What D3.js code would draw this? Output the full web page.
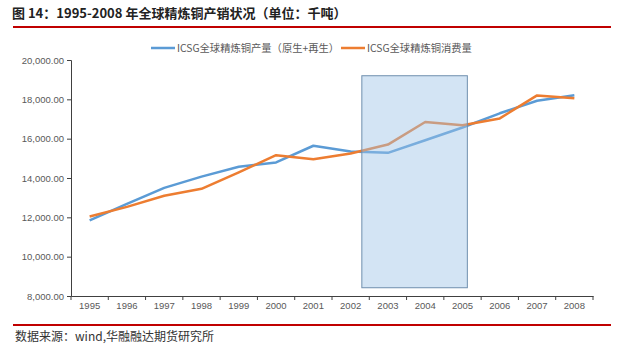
<!DOCTYPE html>
<html><head><meta charset="utf-8">
<script src="https://cdn.jsdelivr.net/npm/d3@7"></script>
<style>body{margin:0;background:#fff}svg{display:block}</style>
</head><body>
<svg id="c" width="620" height="357"></svg>
<script>
const years = ["1995","1996","1997","1998","1999","2000","2001","2002","2003","2004","2005","2006","2007","2008"];
const production = [11850,12680,13500,14070,14570,14790,15640,15350,15280,15920,16570,17290,17930,18210];
const consumption = [12040,12530,13100,13450,14290,15160,14950,15250,15700,16850,16680,17030,18200,18060];
const yTicks = [8000,10000,12000,14000,16000,18000,20000];
const seriesNames = ["ICSG全球精炼铜产量（原生+再生）","ICSG全球精炼铜消费量"];
const colors = ["#5b9bd5","#ed7d31"];
const titleText = "图 14：1995-2008 年全球精炼铜产销状况（单位：千吨）";
const sourceText = "数据来源：wind,华融融达期货研究所";
// highlighted period (in band units along x, value units along y)
const hlX = [7.80, 10.63];
const hlY = [8420, 19200];

const svg = d3.select("#c");
const cjk = "'Noto Sans CJK SC','Noto Sans',sans-serif";
const L = 71, R = 593, T = 60, B = 296;

const x = d3.scaleBand().domain(years).range([L, R]);
const y = d3.scaleLinear().domain([8000, 20000]).range([B, T]);
const xi = d3.scaleLinear().domain([0, years.length]).range([L, R]);

// title
svg.append("text").attr("x", 12).attr("y", 18).text(titleText)
  .attr("font-family", cjk).attr("font-weight", "bold").attr("font-size", 13).attr("fill", "#222");
svg.append("line").attr("x1", 13).attr("x2", 611).attr("y1", 27).attr("y2", 27)
  .attr("stroke", "#c00000").attr("stroke-width", 2);

// legend
const lg = svg.append("g").attr("font-family", cjk).attr("font-size", 10.3).attr("fill", "#595959");
const legX = [151, 341];
seriesNames.forEach((n, i) => {
  lg.append("line").attr("x1", legX[i]).attr("x2", legX[i] + 24).attr("y1", 48).attr("y2", 48)
    .attr("stroke", colors[i]).attr("stroke-width", 2.5);
  lg.append("text").attr("x", legX[i] + 26).attr("y", 52).text(n);
});

// y axis
const ya = svg.append("g").attr("transform", `translate(${L},0)`)
  .call(d3.axisLeft(y).tickValues(yTicks).tickFormat(d3.format(",.2f")).tickSizeOuter(0).tickSize(4));
ya.selectAll("text").attr("font-family", "'Liberation Sans',sans-serif").attr("font-size", 9.5).attr("fill", "#595959");
ya.selectAll("line,path").attr("stroke", "#404040");

// x axis
const xa = svg.append("g").attr("transform", `translate(0,${B})`)
  .call(d3.axisBottom(x).tickSize(0).tickSizeOuter(0));
xa.selectAll("text").attr("dy", "1.1em").attr("font-family", "'Liberation Sans',sans-serif").attr("font-size", 9.5).attr("fill", "#595959");
xa.selectAll("path").attr("stroke", "#404040");
xa.selectAll(".bt").data(d3.range(years.length + 1)).enter().append("line")
  .attr("x1", d => xi(d)).attr("x2", d => xi(d)).attr("y1", 0).attr("y2", 4).attr("stroke", "#404040");

// lines
const line = d3.line().x((d, i) => x(years[i]) + x.bandwidth() / 2).y(d => y(d));
[production, consumption].forEach((s, i) => {
  svg.append("path").datum(s).attr("d", line).attr("fill", "none")
    .attr("stroke", colors[i]).attr("stroke-width", 2.5).attr("stroke-linejoin", "round");
});

// highlight rectangle
svg.append("rect").attr("x", xi(hlX[0])).attr("width", xi(hlX[1]) - xi(hlX[0]))
  .attr("y", y(hlY[1])).attr("height", y(hlY[0]) - y(hlY[1]))
  .attr("fill", "#9dc3e6").attr("fill-opacity", 0.45).attr("stroke", "#6f8fae").attr("stroke-width", 1);

// footer
svg.append("line").attr("x1", 13).attr("x2", 611).attr("y1", 325).attr("y2", 325)
  .attr("stroke", "#c00000").attr("stroke-width", 2);
svg.append("text").attr("x", 15).attr("y", 341).text(sourceText)
  .attr("font-family", cjk).attr("font-size", 12).attr("fill", "#333");
</script>
</body></html>
